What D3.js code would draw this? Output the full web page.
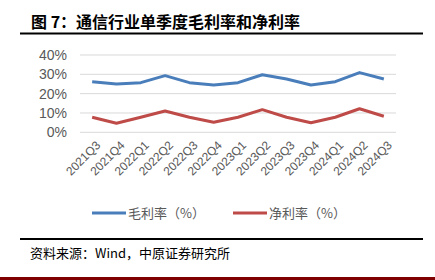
<!DOCTYPE html>
<html><head><meta charset="utf-8">
<script src="https://cdn.jsdelivr.net/npm/d3@7"></script>
<style>
html,body{margin:0;padding:0;background:#fff;}
svg{display:block;}
</style></head>
<body>
<svg id="c" width="435" height="280"></svg>
<script>
const categories = ["2021Q3","2021Q4","2022Q1","2022Q2","2022Q3","2022Q4","2023Q1","2023Q2","2023Q3","2023Q4","2024Q1","2024Q2","2024Q3"];
const grossMargin = [26.2,25.0,25.7,29.3,25.7,24.5,25.7,29.8,27.6,24.5,26.2,30.9,27.6];
const netMargin = [7.8,4.7,7.8,11.0,7.8,5.2,7.8,11.7,7.8,4.9,7.8,12.2,8.3];
const yTicks = [0,10,20,30,40];
const seriesNames = ["毛利率（%）","净利率（%）"];
const titleText = "图 7：通信行业单季度毛利率和净利率";
const sourceText = "资料来源：Wind，中原证券研究所";

const svg = d3.select("#c");
const cjk = "'Noto Sans CJK SC','Noto Sans',sans-serif";
const latin = "'Liberation Sans',Arial,sans-serif";

// title
svg.append("text").attr("x",31).attr("y",28)
  .attr("font-family",cjk).attr("font-weight","bold").attr("font-size",16).attr("fill","#000")
  .text(titleText);
svg.append("line").attr("x1",20).attr("x2",423).attr("y1",33.5).attr("y2",33.5)
  .attr("stroke","#000").attr("stroke-width",2);

const x = d3.scaleBand().domain(categories).range([80,396]);
const y = d3.scaleLinear().domain([0,40]).range([132.3,55]);

// grid
svg.append("g").selectAll("line").data(yTicks).join("line")
  .attr("x1",80).attr("x2",396)
  .attr("y1",d=>y(d)).attr("y2",d=>y(d))
  .attr("stroke","#d9d9d9").attr("stroke-width",1);

// y axis
const yAxis = svg.append("g").attr("transform","translate(80,0)")
  .call(d3.axisLeft(y).tickValues(yTicks).tickFormat(d=>d+"%").tickSize(0).tickPadding(13));
yAxis.select(".domain").remove();
yAxis.selectAll("text").attr("font-family",latin).attr("font-size",14).attr("fill","#595959");

// x axis labels
const xAxis = svg.append("g").attr("transform","translate(0,133)")
  .call(d3.axisBottom(x).tickSize(0));
xAxis.select(".domain").remove();
xAxis.selectAll("text")
  .attr("font-family",latin).attr("font-size",12).attr("fill","#595959")
  .attr("text-anchor","end")
  .attr("transform","translate(6,10) rotate(-45)")
  .attr("dy","0.35em").attr("y",0).attr("x",0);

const line = d3.line().x((d,i)=>x(categories[i])+x.bandwidth()/2).y(d=>y(d));
const colors = ["#4a7ebb","#be4b48"];
[grossMargin, netMargin].forEach((s,k)=>{
  svg.append("path").datum(s).attr("d",line)
    .attr("fill","none").attr("stroke",colors[k]).attr("stroke-width",3)
    .attr("stroke-linejoin","round");
});

// legend
const legX = [92,233];
seriesNames.forEach((n,k)=>{
  svg.append("line").attr("x1",legX[k]).attr("x2",legX[k]+34).attr("y1",213).attr("y2",213)
    .attr("stroke",colors[k]).attr("stroke-width",3);
  svg.append("text").attr("x",legX[k]+36).attr("y",217.5)
    .attr("font-family",cjk).attr("font-size",13).attr("fill","#595959").text(n);
});

// footer
svg.append("line").attr("x1",20).attr("x2",423).attr("y1",239).attr("y2",239)
  .attr("stroke","#000").attr("stroke-width",2);
svg.append("text").attr("x",30).attr("y",258)
  .attr("font-family",cjk).attr("font-size",13).attr("fill","#000").text(sourceText);
svg.append("rect").attr("x",0).attr("y",277).attr("width",435).attr("height",3).attr("fill","#800000");
</script>
</body></html>
